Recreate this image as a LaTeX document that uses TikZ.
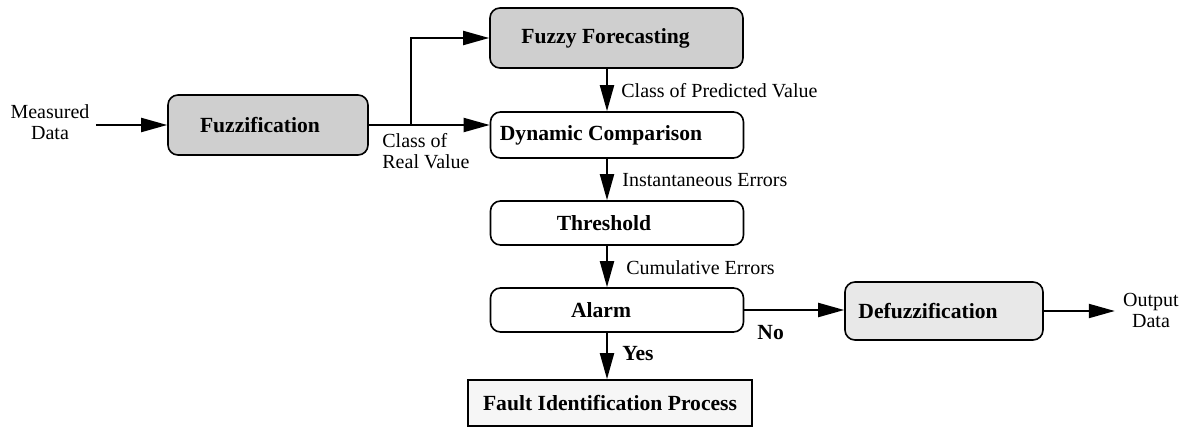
\documentclass[tikz,border=0pt]{standalone}
\usepackage{fontspec}
\setmainfont{Liberation Serif}
\usetikzlibrary{arrows.meta}

\begin{document}
\begin{tikzpicture}[x=0.5pt,y=-0.5pt,
  box/.style={draw,line width=0.8pt,rounded corners=5pt,inner sep=0pt,
    font=\fontsize{10.8}{12}\selectfont\bfseries},
  leftbox/.style={box,execute at end node={\hspace*{#1}}},
  leftbox/.default=13pt,
  shaded/.style={fill=gray!38},
  lbl/.style={inner sep=0pt,align=center,font=\fontsize{10}{10.5}\selectfont},
  flow/.style={line width=1pt,-{Triangle[length=13pt,width=7pt]}}]
\useasboundingbox (0,0) rectangle (1184,428);
\coordinate (spine) at (607,0);
\coordinate (split) at (411,125);
% boxes
\node[leftbox=8pt,shaded,minimum width=100pt,minimum height=30pt] (fuzz) at (268,125) {Fuzzification};
\node[leftbox=11pt,shaded,minimum width=126.5pt,minimum height=30pt] (ff) at (616.5,38) {Fuzzy Forecasting};
\node[leftbox=16pt,minimum width=126.5pt,minimum height=23pt] (dc) at (617,135) {Dynamic Comparison};
\node[leftbox,minimum width=126.5pt,minimum height=22pt] (thr) at (617,223) {Threshold};
\node[leftbox=16pt,minimum width=126.5pt,minimum height=22pt] (alarm) at (617,310) {Alarm};
\node[leftbox=16pt,fill=gray!18,minimum width=99pt,minimum height=29pt] (defuzz) at (944,311) {Defuzzification};
\node[box,rounded corners=0pt,fill=gray!7,minimum width=142pt,minimum height=23pt] (fault) at (610,403) {Fault Identification Process};
% texts
\node[lbl] (md) at (50,122) {Measured\\Data};
\node[lbl] (out) at (1151,310) {Output\\Data};
\node[lbl,align=left,anchor=west] (crv) at (382,151) {Class of\\Real Value};
\node[lbl,anchor=west] (cpv) at (621,91) {Class of Predicted Value};
\node[lbl,anchor=west] (ie) at (622,180) {Instantaneous Errors};
\node[lbl,anchor=west] (ce) at (626,268) {Cumulative Errors};
\node[lbl,anchor=west,font=\fontsize{10.8}{12}\selectfont\bfseries] (yes) at (622,354) {Yes};
\node[lbl,anchor=west,font=\fontsize{10.8}{12}\selectfont\bfseries] (no) at (757,333) {No};
% connectors
\draw[flow] ([xshift=3pt]md.east |- fuzz.west) -- (fuzz.west);
\draw[flow] (fuzz.east) -- (dc.west |- fuzz.east);
\draw[flow] (split) |- (ff.west);
\draw[flow] (ff.south -| spine) -- (dc.north -| spine);
\draw[flow] (dc.south -| spine) -- (thr.north -| spine);
\draw[flow] (thr.south -| spine) -- (alarm.north -| spine);
\draw[flow] (alarm.south -| spine) -- (fault.north -| spine);
\draw[flow] (alarm.east) -- (defuzz.west |- alarm.east);
\draw[flow] (defuzz.east) -- ([xshift=-4pt]out.west |- defuzz.east);
\end{tikzpicture}
\end{document}
